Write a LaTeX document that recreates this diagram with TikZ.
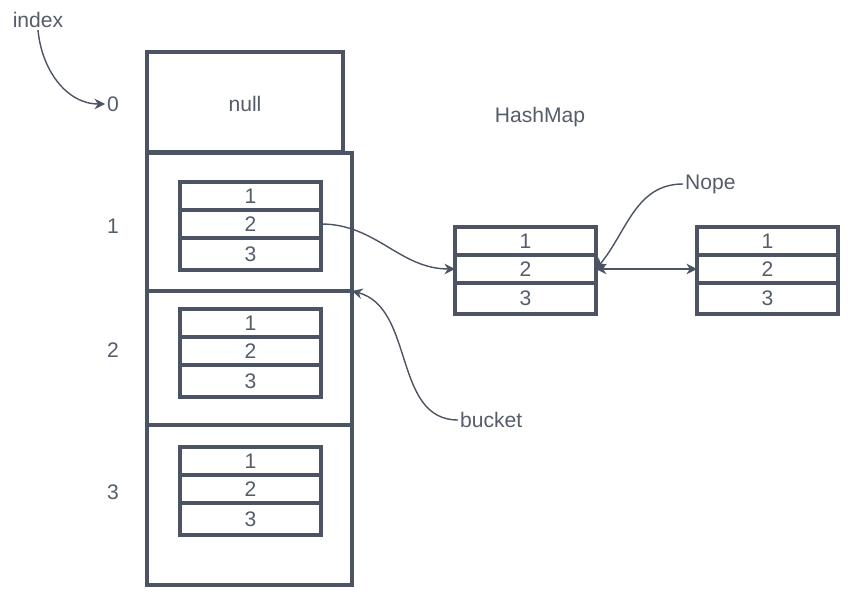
\documentclass[tikz,border=0pt]{standalone}
\usepackage{fontspec}
\setmainfont{Liberation Sans}
\usepackage{xcolor}
\usetikzlibrary{arrows.meta}
\definecolor{linegray}{RGB}{76,84,99}
\definecolor{textgray}{RGB}{85,92,106}

\tikzset{
  cell/.style={draw=linegray, line width=2pt, minimum width=2.82cm, minimum height=0.56cm,
    inner sep=0pt, outer sep=0pt, anchor=north west, text=textgray, font=\fontsize{12}{13}\selectfont},
  slot/.style={draw=linegray, line width=2pt, minimum width=4.1cm, inner sep=0pt,
    outer sep=0pt, anchor=north west},
  label/.style={text=textgray, font=\fontsize{12}{14}\selectfont, inner sep=1pt},
  link/.style={linegray, line width=0.8pt, -{Stealth[length=6pt,width=6pt]}}
}

\begin{document}
\begin{tikzpicture}[x=0.02cm, y=-0.02cm]
\useasboundingbox (0,0) rectangle (867,615);

% 1. TABLE (index 0 .. 3)
\node[slot, minimum width=3.92cm, minimum height=2cm] (nullslot) at (147,52) {};
\node[label] (nulltext) at (245,104) {null};
\node[slot, minimum height=2.76cm] (slot1) at (147,153) {};
\node[slot, minimum height=2.68cm] (slot2) at (147,291) {};
\node[slot, minimum height=3.2cm] (slot3) at (147,425) {};

% Buckets inside the table
\foreach \b/\y in {1/182, 2/309, 3/447} {
  \node[cell] (b\b-1) at (180,\y) {1};
  \node[cell] (b\b-2) at (180,\y+28) {2};
  \node[cell, minimum height=0.64cm] (b\b-3) at (180,\y+56) {3};
}

% Index labels
\node[label] (index) at (38,20) {index};
\foreach \i/\y in {0/104, 1/226, 2/350, 3/492}
  \node[label] (idx\i) at (113,\y) {\i};

% 2. HASHMAP ENTRIES
\node[label] (hashmap) at (540,117) {HashMap};
\node[cell] (hm-1) at (455,227) {1};
\node[cell] (hm-2) at (455,255) {2};
\node[cell, minimum height=0.62cm] (hm-3) at (455,283) {3};

\node[cell] (nx-1) at (697,227) {1};
\node[cell] (nx-2) at (697,255) {2};
\node[cell, minimum height=0.62cm] (nx-3) at (697,283) {3};

\node[label, anchor=west] (nope) at (683,184) {Nope};
\node[label, anchor=west] (bucket) at (458,420) {bucket};

% 3. CONNECTORS
\draw[link] (index.south) to[out=-85, in=180] (idx0.west);
\draw[link] (b1-2.east) to[out=0, in=180] (hm-2.west);
\draw[link] (nope.west) to[out=180, in=50] (hm-2.east);
\draw[link, {Stealth[length=6pt,width=6pt]}-{Stealth[length=6pt,width=6pt]}] (hm-2.east) -- (nx-2.west);
\draw[link] (bucket.west) to[out=180, in=-15] (slot1.south east);

\end{tikzpicture}
\end{document}
